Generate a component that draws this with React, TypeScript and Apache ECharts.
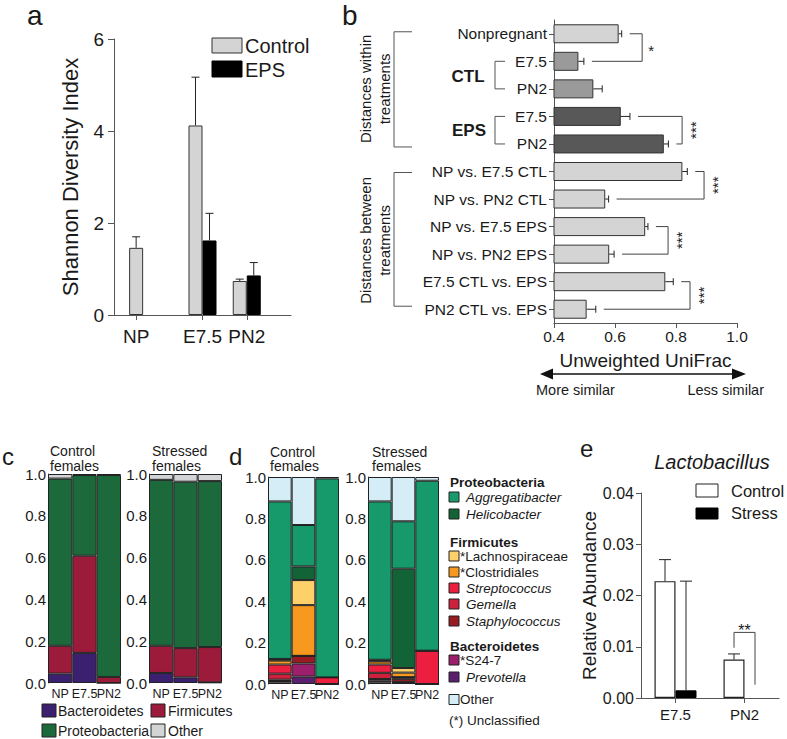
import React, { useEffect, useRef } from "react";
import * as echarts from "echarts";

const FONT = '"Liberation Sans", Arial, Helvetica, sans-serif';
const INK = "#1a1a1a";
const AXIS = "#555";

// ---------- panel a : Shannon diversity ----------
const aSlots = ["", "NP", "", "", "E7.5", "", "PN2", "", ""];
const aGroups = ["NP", "E7.5", "PN2"];
const aControl = [1.46, 4.12, 0.74];
const aControlHi = [1.7, 5.17, 0.78];
const aEps: (number | null)[] = [null, 1.62, 0.86];
const aEpsHi: (number | null)[] = [null, 2.21, 1.14];

// ---------- panel b : Unweighted UniFrac ----------
const bCats = [
  "Nonpregnant", "E7.5", "PN2", "E7.5", "PN2",
  "NP vs. E7.5 CTL", "NP vs. PN2 CTL", "NP vs. E7.5 EPS", "NP vs. PN2 EPS",
  "E7.5 CTL vs. EPS", "PN2 CTL vs. EPS",
];
const bGroup = ["NP", "CTL", "CTL", "EPS", "EPS", "between", "between", "between", "between", "between", "between"];
const bVals = [0.612, 0.48, 0.529, 0.619, 0.76, 0.821, 0.568, 0.699, 0.581, 0.765, 0.507];
const bErrTop = [0.622, 0.498, 0.558, 0.649, 0.775, 0.837, 0.579, 0.708, 0.597, 0.791, 0.537];
const sigFrom = [0, 3, 5, 7, 9];
const sigTo = [1, 4, 6, 8, 10];
const sigX = [0.689, 0.82, 0.892, 0.774, 0.846];
const sigText = ["*", "***", "***", "***", "***"];

// ---------- panel c : phyla ----------
const cCats = ["NP", "E7.5", "PN2"];
const cPhyla = ["Bacteroidetes", "Firmicutes", "Proteobacteria", "Other"];
const cControl = [
  [0.045, 0.144, 0],
  [0.133, 0.465, 0.029],
  [0.8, 0.386, 0.966],
  [0.022, 0.005, 0.005],
];
const cStressed = [
  [0.048, 0.027, 0.003],
  [0.13, 0.14, 0.169],
  [0.794, 0.796, 0.794],
  [0.028, 0.037, 0.034],
];

// ---------- panel d : genera ----------
const dTaxa = [
  "Prevotella", "S24-7", "Staphylococcus", "Gemella", "Streptococcus",
  "Clostridiales", "Lachnospiraceae", "Helicobacter", "Aggregatibacter", "Other",
];
const dControl = [
  [0.0065, 0.036, 0],
  [0.008, 0.063, 0],
  [0.0065, 0.037, 0],
  [0.029, 0, 0],
  [0.044, 0, 0.032],
  [0.019, 0.245, 0],
  [0.005, 0.121, 0],
  [0.003, 0.066, 0],
  [0.761, 0.2, 0.961],
  [0.118, 0.232, 0.007],
];
const dStressed = [
  [0.008, 0.005, 0],
  [0.008, 0.005, 0],
  [0.008, 0.015, 0],
  [0.03, 0.008, 0],
  [0.04, 0, 0.161],
  [0.015, 0.022, 0],
  [0.004, 0.022, 0],
  [0.004, 0.48, 0],
  [0.765, 0.229, 0.821],
  [0.118, 0.214, 0.018],
];

// ---------- panel e : Lactobacillus ----------
const eCats = ["E7.5", "PN2"];
const eControl = [0.0228, 0.0075];
const eControlHi = [0.027, 0.0086];
const eStress: (number | null)[] = [0.0015, null];
const eStressHi: (number | null)[] = [0.0228, null];
const eSigCat = "PN2";
const eSigY = [0.0098, 0.0128, 0.0026];

// ---------- styles ----------
const cColors: Record<string, string> = {
  Bacteroidetes: "#3b2070",
  Firmicutes: "#9c1b3b",
  Proteobacteria: "#1c6a3b",
  Other: "#d2d4d5",
};
const dColors: Record<string, string> = {
  Aggregatibacter: "#169a6b",
  Helicobacter: "#126436",
  Lachnospiraceae: "#fdd06a",
  Clostridiales: "#f7991f",
  Streptococcus: "#ed1f40",
  Gemella: "#cc203c",
  Staphylococcus: "#991b22",
  "S24-7": "#9c1f6b",
  Prevotella: "#5b1f6f",
  Other: "#d4edf7",
};
const bColorOf: Record<string, string> = { NP: "#d4d4d4", CTL: "#9a9a9a", EPS: "#585858", between: "#d4d4d4" };

function T(text: string, x: number, y: number, o: any = {}, rotation = 0) {
  return {
    type: "text", x, y, rotation, silent: true,
    style: { text, fontSize: 14, fontFamily: FONT, fill: INK, align: "left", verticalAlign: "middle", ...o },
  };
}
function R(x: number, y: number, w: number, h: number, fill: string, stroke = "#222") {
  return { type: "rect", silent: true, shape: { x, y, width: w, height: h }, style: { fill, stroke, lineWidth: 1 } };
}
function PL(points: number[][], stroke = "#555") {
  return { type: "polyline", silent: true, shape: { points }, style: { stroke, lineWidth: 1, fill: null } };
}

function vErr(xAxisIndex: number, yAxisIndex: number, data: number[][], offset: number, cap: number) {
  return {
    type: "custom", xAxisIndex, yAxisIndex, z: 4, silent: true, encode: { x: 0, y: [1, 2] }, data,
    renderItem: (_p: any, api: any) => {
      const c = api.value(0);
      const p1 = api.coord([c, api.value(1)]);
      const p2 = api.coord([c, api.value(2)]);
      const x = p1[0] + offset;
      return {
        type: "group",
        children: [
          { type: "line", shape: { x1: x, y1: p1[1], x2: x, y2: p2[1] }, style: { stroke: "#222", lineWidth: 1 } },
          { type: "line", shape: { x1: x - cap, y1: p2[1], x2: x + cap, y2: p2[1] }, style: { stroke: "#222", lineWidth: 1 } },
        ],
      };
    },
  };
}
function hErr(xAxisIndex: number, yAxisIndex: number, data: number[][], cap: number) {
  return {
    type: "custom", xAxisIndex, yAxisIndex, z: 4, silent: true, encode: { y: 0, x: [1, 2] }, data,
    renderItem: (_p: any, api: any) => {
      const c = api.value(0);
      const p1 = api.coord([api.value(1), c]);
      const p2 = api.coord([api.value(2), c]);
      return {
        type: "group",
        children: [
          { type: "line", shape: { x1: p1[0], y1: p1[1], x2: p2[0], y2: p2[1] }, style: { stroke: "#222", lineWidth: 1 } },
          { type: "line", shape: { x1: p2[0], y1: p2[1] - cap, x2: p2[0], y2: p2[1] + cap }, style: { stroke: "#222", lineWidth: 1 } },
        ],
      };
    },
  };
}

function stacks(stackId: string, xi: number, yi: number, names: string[], vals: number[][], colors: Record<string, string>) {
  return names.map((n, k) => ({
    type: "bar", name: n, stack: stackId, xAxisIndex: xi, yAxisIndex: yi, barWidth: "100%",
    data: vals[k],
    itemStyle: { color: colors[n], borderColor: "#222", borderWidth: 1 },
  }));
}

const lbl = (o: any = {}) => ({ color: INK, fontFamily: FONT, ...o });
const line = (show = true) => ({ show, lineStyle: { color: AXIS, width: 1 } });
const fix1 = (v: number) => v.toFixed(1);

function buildOption() {
  const aIdx = aGroups.map((g) => aSlots.indexOf(g));
  const paired = aGroups.map((_, i) => aEps[i] != null);
  const aCtlPairs = aIdx.map((x, i) => (paired[i] ? [x, aControl[i]] : null)).filter(Boolean);
  const aNpPairs = aIdx.map((x, i) => (!paired[i] ? [x, aControl[i]] : null)).filter(Boolean);
  const aEpsPairs = aIdx.map((x, i) => (paired[i] ? [x, aEps[i]] : null)).filter(Boolean);

  const grids = [
    { left: 114, top: 39, width: 177, height: 276 },
    { left: 554, top: 20, width: 183, height: 303 },
    { left: 48, top: 474, width: 73, height: 209 },
    { left: 149, top: 474, width: 73, height: 209 },
    { left: 268, top: 477, width: 71, height: 207 },
    { left: 368, top: 477, width: 71, height: 207 },
    { left: 641, top: 493, width: 138, height: 205 },
  ].map((g) => ({ ...g, outerBoundsMode: "none", containLabel: false }));

  const stackX = (gi: number) => ({
    gridIndex: gi, type: "category", data: cCats, axisLine: line(false), axisTick: { show: false },
    axisLabel: lbl({ fontSize: 12.5, margin: 4, interval: 0 }),
  });
  const stackY = (gi: number) => ({
    gridIndex: gi, type: "value", min: 0, max: 1, interval: 0.2, axisLine: line(true), axisTick: { show: false },
    splitLine: { show: false }, axisLabel: lbl({ fontSize: 15, margin: 2, formatter: fix1 }),
  });

  const xAxis = [
    {
      gridIndex: 0, type: "category", data: aSlots, boundaryGap: false, axisLine: line(),
      axisTick: { show: true, length: 5, interval: (_i: number, v: string) => v !== "", lineStyle: { color: AXIS } },
      axisLabel: lbl({ fontSize: 19, margin: 12, interval: 0 }),
    },
    { gridIndex: 0, type: "category", data: aSlots, boundaryGap: false, show: false },
    {
      gridIndex: 1, type: "value", min: 0.4, max: 1.0, interval: 0.2, axisLine: line(),
      axisTick: { show: true, length: 5, lineStyle: { color: AXIS } }, splitLine: { show: false },
      axisLabel: lbl({ fontSize: 15.5, margin: 5, formatter: fix1 }),
      name: "Unweighted UniFrac", nameLocation: "middle", nameGap: 28,
      nameTextStyle: { fontSize: 19, color: INK, fontFamily: FONT },
    },
    stackX(2), stackX(3), stackX(4), stackX(5),
    {
      gridIndex: 6, type: "category", data: eCats, axisLine: line(),
      axisTick: { show: true, alignWithLabel: true, length: 5, lineStyle: { color: AXIS } },
      axisLabel: lbl({ fontSize: 15, margin: 9 }),
    },
  ];
  const yAxis = [
    {
      gridIndex: 0, type: "value", min: 0, max: 6, interval: 2, axisLine: line(),
      axisTick: { show: true, length: 6, lineStyle: { color: AXIS } }, splitLine: { show: false },
      axisLabel: lbl({ fontSize: 19, margin: 10 }),
      name: "Shannon Diversity Index", nameLocation: "middle", nameGap: 33,
      nameTextStyle: { fontSize: 22, color: INK, fontFamily: FONT },
    },
    {
      gridIndex: 1, type: "category", data: bCats, inverse: true, axisLine: line(),
      axisTick: { show: true, alignWithLabel: true, length: 5, lineStyle: { color: AXIS } },
      axisLabel: lbl({ fontSize: 15.5, margin: 7, interval: 0 }),
    },
    stackY(2), stackY(3), stackY(4), stackY(5),
    {
      gridIndex: 6, type: "value", min: 0, max: 0.04, interval: 0.01, axisLine: line(),
      axisTick: { show: true, length: 5, lineStyle: { color: AXIS } }, splitLine: { show: false },
      axisLabel: lbl({ fontSize: 16, margin: 7, formatter: (v: number) => v.toFixed(2) }),
      name: "Relative Abundance", nameLocation: "middle", nameGap: 38,
      nameTextStyle: { fontSize: 19, color: INK, fontFamily: FONT },
    },
  ];

  const series: any[] = [
    // panel a
    { type: "bar", name: "Control", xAxisIndex: 0, yAxisIndex: 0, barWidth: 14, barGap: "0%", data: aCtlPairs,
      itemStyle: { color: "#d4d4d4", borderColor: "#333", borderWidth: 1 } },
    { type: "bar", name: "EPS", xAxisIndex: 0, yAxisIndex: 0, barWidth: 14, barGap: "0%", data: aEpsPairs,
      itemStyle: { color: "#000", borderColor: "#000", borderWidth: 1 } },
    { type: "bar", name: "Control", xAxisIndex: 1, yAxisIndex: 0, barWidth: 14, data: aNpPairs,
      itemStyle: { color: "#d4d4d4", borderColor: "#333", borderWidth: 1 } },
    vErr(0, 0, aIdx.map((x, i) => (paired[i] ? [x, aControl[i], aControlHi[i]] : null)).filter(Boolean) as number[][], -7, 4),
    vErr(0, 0, aIdx.map((x, i) => (paired[i] ? [x, aEps[i] as number, aEpsHi[i] as number] : null)).filter(Boolean) as number[][], 7, 4),
    vErr(1, 0, aIdx.map((x, i) => (!paired[i] ? [x, aControl[i], aControlHi[i]] : null)).filter(Boolean) as number[][], 0, 4),
    // panel b
    { type: "bar", xAxisIndex: 2, yAxisIndex: 1, barWidth: 19,
      data: bVals.map((v, i) => ({ value: v, itemStyle: { color: bColorOf[bGroup[i]] } })),
      itemStyle: { borderColor: "#333", borderWidth: 1 } },
    hErr(2, 1, bCats.map((_, i) => [i, bVals[i], bErrTop[i]]), 3.5),
    {
      type: "custom", xAxisIndex: 2, yAxisIndex: 1, z: 4, silent: true, encode: { x: 0, y: [1, 2] },
      data: sigX.map((x, k) => [x, sigFrom[k], sigTo[k]]),
      renderItem: (p: any, api: any) => {
        const k = p.dataIndex;
        const a = api.value(1), b = api.value(2);
        const pa = api.coord([bErrTop[a], a]);
        const pb = api.coord([bErrTop[b], b]);
        const xb = api.coord([api.value(0), a])[0];
        const txt = sigText[k];
        const rot = txt.length > 1;
        return {
          type: "group",
          children: [
            { type: "polyline", shape: { points: [[pa[0] + 8, pa[1]], [xb, pa[1]], [xb, pb[1]], [pb[0] + 8, pb[1]]] },
              style: { stroke: "#444", lineWidth: 1, fill: null } },
            { type: "text", x: rot ? xb + 13 : xb + 9, y: (pa[1] + pb[1]) / 2 + (rot ? 0 : 3), rotation: rot ? Math.PI / 2 : 0,
              style: { text: txt, fontSize: 15, fontFamily: FONT, fill: INK, align: "center", verticalAlign: "middle" } },
          ],
        };
      },
    },
    // panel c
    ...stacks("c0", 3, 2, cPhyla, cControl, cColors),
    ...stacks("c1", 4, 3, cPhyla, cStressed, cColors),
    // panel d
    ...stacks("d0", 5, 4, dTaxa, dControl, dColors),
    ...stacks("d1", 6, 5, dTaxa, dStressed, dColors),
    // panel e
    { type: "bar", name: "Control", xAxisIndex: 7, yAxisIndex: 6, barWidth: 21, barGap: "0%", data: eControl,
      itemStyle: { color: "#fff", borderColor: "#222", borderWidth: 1.2 } },
    { type: "bar", name: "Stress", xAxisIndex: 7, yAxisIndex: 6, barWidth: 21, barGap: "0%", data: eStress,
      itemStyle: { color: "#000", borderColor: "#000", borderWidth: 1 } },
    vErr(7, 6, eCats.map((_, i) => [i, eControl[i], eControlHi[i]]), -10.5, 6),
    vErr(7, 6, eCats.map((_, i) => (eStress[i] != null ? [i, eStress[i] as number, eStressHi[i] as number] : null)).filter(Boolean) as number[][], 10.5, 6),
    {
      type: "custom", xAxisIndex: 7, yAxisIndex: 6, z: 4, silent: true, encode: { x: 0, y: [1, 2, 3] },
      data: [[eCats.indexOf(eSigCat), ...eSigY]],
      renderItem: (_p: any, api: any) => {
        const c = api.value(0);
        const l = api.coord([c, api.value(1)]);
        const t = api.coord([c, api.value(2)]);
        const r = api.coord([c, api.value(3)]);
        const xl = l[0] - 10.5, xr = l[0] + 10.5;
        return {
          type: "group",
          children: [
            { type: "polyline", shape: { points: [[xl, l[1]], [xl, t[1]], [xr, t[1]], [xr, r[1]]] },
              style: { stroke: "#444", lineWidth: 1, fill: null } },
            { type: "text", x: (xl + xr) / 2, y: t[1] - 2,
              style: { text: "**", fontSize: 16, fontFamily: FONT, fill: INK, align: "center", verticalAlign: "middle" } },
          ],
        };
      },
    },
  ];

  // panel b category centres for the side brackets
  const bTop = 20, bH = 303;
  const bY = (i: number) => bTop + ((i + 0.5) * bH) / bCats.length;

  const dLegend = [
    { kind: "h", text: "Proteobacteria", y: 482 },
    { kind: "i", text: "Aggregatibacter", y: 497 },
    { kind: "i", text: "Helicobacter", y: 514 },
    { kind: "h", text: "Firmicutes", y: 542 },
    { kind: "s", text: "Lachnospiraceae", y: 556 },
    { kind: "s", text: "Clostridiales", y: 572 },
    { kind: "i", text: "Streptococcus", y: 588 },
    { kind: "i", text: "Gemella", y: 604 },
    { kind: "i", text: "Staphylococcus", y: 621 },
    { kind: "h", text: "Bacteroidetes", y: 646 },
    { kind: "s", text: "S24-7", y: 660 },
    { kind: "i", text: "Prevotella", y: 677 },
    { kind: "o", text: "Other", y: 699.5 },
  ];
  const dLegendEls: any[] = [];
  dLegend.forEach((e) => {
    if (e.kind === "h") {
      dLegendEls.push(T(e.text, 450, e.y, { fontWeight: "bold", fontSize: 13.5 }));
    } else {
      dLegendEls.push(R(449, e.y - 5, 10, 10, dColors[e.text]));
      if (e.kind === "i") dLegendEls.push(T(e.text, 466, e.y, { fontStyle: "italic", fontSize: 13.5 }));
      else if (e.kind === "s") dLegendEls.push(T("*" + e.text, 460, e.y, { fontSize: 13.5 }));
      else dLegendEls.push(T(e.text, 460, e.y, { fontSize: 13.5 }));
    }
  });

  const graphic: any[] = [
    // panel letters
    T("a", 27, 1, { fontSize: 28, verticalAlign: "top" }),
    T("b", 342, 1, { fontSize: 28, verticalAlign: "top" }),
    T("c", 2, 456.5, { fontSize: 24 }),
    T("d", 229, 456.5, { fontSize: 24 }),
    T("e", 580, 448.5, { fontSize: 24 }),
    // panel a legend
    R(212, 38, 30, 15, "#d4d4d4", "#333"),
    T("Control", 245, 46, { fontSize: 20 }),
    R(212, 61, 30, 16, "#000", "#000"),
    T("EPS", 245, 69.5, { fontSize: 20 }),
    // panel b side brackets
    PL([[412, bY(0) - 2], [394, bY(0) - 2], [394, bY(4) + 3], [412, bY(4) + 3]]),
    PL([[412, bY(5) + 1], [394, bY(5) + 1], [394, bY(10) - 3], [412, bY(10) - 3]]),
    T("Distances within\ntreatments", 375, (bY(0) + bY(4)) / 2, { fontSize: 15, align: "center", lineHeight: 19 }, Math.PI / 2),
    T("Distances between\ntreatments", 375, (bY(5) + bY(10)) / 2, { fontSize: 15, align: "center", lineHeight: 19 }, Math.PI / 2),
    PL([[505, bY(1)], [495, bY(1)], [495, bY(2)], [505, bY(2)]]),
    PL([[505, bY(3)], [495, bY(3)], [495, bY(4)], [505, bY(4)]]),
    T("CTL", 468, (bY(1) + bY(2)) / 2 + 1.5, { fontSize: 17, fontWeight: "bold", align: "center" }),
    T("EPS", 469, (bY(3) + bY(4)) / 2, { fontSize: 17, fontWeight: "bold", align: "center" }),
    // arrow
    { type: "line", silent: true, shape: { x1: 550, y1: 374, x2: 735, y2: 374 }, style: { stroke: "#111", lineWidth: 1.3 } },
    { type: "polygon", silent: true, shape: { points: [[540, 374], [553, 368.5], [553, 379.5]] }, style: { fill: "#111" } },
    { type: "polygon", silent: true, shape: { points: [[746, 374], [732, 368.5], [732, 379.5]] }, style: { fill: "#111" } },
    T("More similar", 536, 390, { fontSize: 14.5 }),
    T("Less similar", 764, 390, { fontSize: 14.5, align: "right" }),
    // panel c titles + legend
    T("Control", 50, 451, { fontSize: 14 }),
    T("females", 50, 466, { fontSize: 14 }),
    T("Stressed", 152, 451, { fontSize: 14 }),
    T("females", 152, 466, { fontSize: 14 }),
    R(42, 704, 14, 13, cColors.Bacteroidetes),
    T("Bacteroidetes", 58, 710.5, { fontSize: 14 }),
    R(151, 704, 14, 13, cColors.Firmicutes),
    T("Firmicutes", 168, 710.5, { fontSize: 14 }),
    R(42, 724, 14, 13, cColors.Proteobacteria),
    T("Proteobacteria", 58, 730.5, { fontSize: 14 }),
    R(151, 724, 14, 13, cColors.Other),
    T("Other", 168, 730.5, { fontSize: 14 }),
    // panel d titles + legend
    T("Control", 270, 451.5, { fontSize: 14 }),
    T("females", 270, 466, { fontSize: 14 }),
    T("Stressed", 372, 451.5, { fontSize: 14 }),
    T("females", 372, 466, { fontSize: 14 }),
    ...dLegendEls,
    T("(*) Unclassified", 449, 720, { fontSize: 13.5 }),
    // panel e title + legend
    T("Lactobacillus", 712, 461.5, { fontSize: 20, fontStyle: "italic", align: "center" }),
    R(696, 484, 22, 13, "#fff", "#222"),
    T("Control", 731, 490.5, { fontSize: 16.5 }),
    R(696, 508, 22, 11, "#000", "#000"),
    T("Stress", 731, 512.5, { fontSize: 16.5 }),
  ];

  return {
    animation: false,
    backgroundColor: "#fff",
    textStyle: { fontFamily: FONT, color: INK },
    grid: grids,
    xAxis,
    yAxis,
    series,
    graphic,
  };
}

export default function App() {
  const ref = useRef<HTMLDivElement>(null);
  useEffect(() => {
    if (!ref.current) return;
    const chart = echarts.init(ref.current, null, { renderer: "svg" });
    chart.setOption(buildOption() as any);
    return () => chart.dispose();
  }, []);
  return (
    <div
      ref={ref}
      style={{ position: "absolute", left: 0, top: 0, width: 787, height: 739, background: "#fff" }}
    />
  );
}
